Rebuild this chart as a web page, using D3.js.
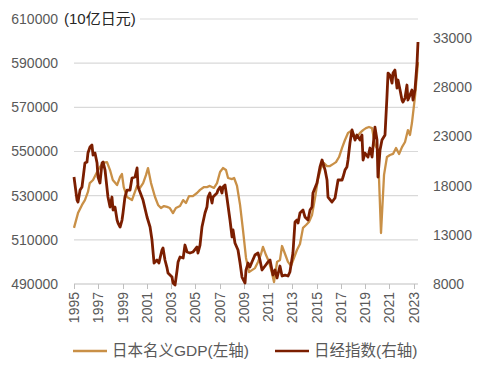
<!DOCTYPE html>
<html><head><meta charset="utf-8">
<script src="https://cdn.jsdelivr.net/npm/d3@7/dist/d3.min.js"></script>
<style>
html,body{margin:0;padding:0;background:#fff;}
svg{display:block;font-family:"Liberation Sans","Noto Sans CJK SC",sans-serif;}
</style></head>
<body><svg id="c" width="484" height="375"></svg>
<script>
const yearTicks = [1995,1997,1999,2001,2003,2005,2007,2009,2011,2013,2015,2017,2019,2021,2023];
const leftTicks = [490000,510000,530000,550000,570000,590000,610000];
const rightTicks = [8000,13000,18000,23000,28000,33000];
const unitLabel = "(10亿日元)";
const seriesNames = ["日本名义GDP(左轴)","日经指数(右轴)"];

const gdpDates = [1995.0,1995.33,1995.66,1995.9,1996.15,1996.3,1996.57,1996.9,1997.14,1997.4,1997.72,1997.97,1998.2,1998.55,1998.8,1998.95,1999.1,1999.37,1999.78,2000.2,2000.44,2000.7,2000.94,2001.1,2001.35,2001.68,2001.93,2002.17,2002.42,2002.67,2002.9,2003.16,2003.4,2003.74,2004.0,2004.23,2004.48,2004.8,2005.14,2005.39,2005.72,2005.96,2006.2,2006.54,2006.79,2007.04,2007.28,2007.53,2007.7,2008.03,2008.2,2008.44,2008.69,2008.93,2009.18,2009.43,2009.67,2009.92,2010.17,2010.42,2010.58,2010.83,2011.08,2011.32,2011.49,2011.74,2011.98,2012.15,2012.4,2012.64,2012.89,2013.14,2013.38,2013.63,2013.88,2014.13,2014.37,2014.62,2014.87,2015.1,2015.36,2015.6,2015.86,2016.1,2016.35,2016.6,2016.85,2017.1,2017.34,2017.59,2017.84,2018.08,2018.33,2018.58,2018.83,2019.07,2019.32,2019.57,2019.81,2020.06,2020.31,2020.56,2020.8,2021.05,2021.3,2021.55,2021.8,2022.04,2022.29,2022.53,2022.7,2022.86,2023.11,2023.36];
const gdpValues = [515400,522100,525800,528000,531700,535700,537100,540700,543000,544800,545200,541600,537100,534800,538500,539800,533900,529400,528000,534400,533500,535700,539400,542500,535700,529400,525800,524400,525300,524900,524400,522100,524400,525300,528000,526700,529800,529800,531200,532600,533900,533900,534400,533500,535700,540700,542500,541600,538000,537500,538000,534400,525800,514500,501800,495400,496300,497200,500000,503600,506800,503100,500000,495000,490900,500000,500900,507200,503600,500000,498200,501800,505400,508100,515400,516700,518100,521200,528900,537100,542500,544800,543400,543400,544300,545200,547500,551600,555200,558400,559300,557500,556600,558400,559700,560600,561100,560600,552900,550700,513100,539400,547500,548400,548900,551600,548900,552000,554300,559700,557500,562900,574700,590500];

const nikkeiDates = [1995.0,1995.25,1995.33,1995.5,1995.66,1995.9,1996.07,1996.15,1996.32,1996.48,1996.57,1996.73,1996.9,1996.98,1997.14,1997.31,1997.4,1997.56,1997.72,1997.8,1997.97,1998.13,1998.22,1998.38,1998.55,1998.63,1998.8,1998.96,1999.04,1999.2,1999.37,1999.62,1999.78,2000.03,2000.2,2000.28,2000.44,2000.69,2001.02,2001.27,2001.43,2001.6,2001.84,2002.0,2002.25,2002.34,2002.5,2002.67,2002.75,2003.08,2003.16,2003.33,2003.5,2003.58,2003.74,2004.0,2004.15,2004.32,2004.56,2004.8,2005.14,2005.22,2005.39,2005.55,2005.8,2005.96,2006.05,2006.2,2006.38,2006.46,2006.79,2006.87,2007.04,2007.2,2007.28,2007.45,2007.6,2007.86,2008.03,2008.11,2008.27,2008.52,2008.69,2008.85,2009.1,2009.18,2009.35,2009.5,2009.67,2009.92,2010.17,2010.33,2010.5,2010.75,2011.0,2011.16,2011.4,2011.57,2011.74,2011.98,2012.15,2012.4,2012.64,2012.8,2013.05,2013.22,2013.38,2013.47,2013.63,2013.88,2014.04,2014.29,2014.46,2014.62,2014.7,2015.03,2015.28,2015.45,2015.7,2015.86,2015.94,2016.27,2016.52,2016.77,2017.1,2017.18,2017.34,2017.5,2017.59,2017.75,2017.92,2018.0,2018.17,2018.33,2018.58,2018.74,2018.83,2018.99,2019.24,2019.4,2019.57,2019.81,2019.98,2020.06,2020.23,2020.39,2020.64,2020.8,2020.89,2021.05,2021.22,2021.3,2021.46,2021.63,2021.71,2021.88,2022.04,2022.12,2022.29,2022.45,2022.53,2022.7,2022.86,2022.95,2023.11,2023.28,2023.36];
const nikkeiValues = [18870,16530,16330,17550,17860,20290,20400,21310,21920,22120,21110,21310,20290,18870,18260,20290,20400,19580,17750,16840,15820,16840,15520,15820,14500,14200,13790,14500,15210,16840,17550,17550,18770,18870,19790,17860,17350,16530,14810,13790,12470,10130,10440,10130,11450,11660,10440,9630,9120,8710,8100,7900,9420,10240,10740,10640,11960,11250,11150,11250,11760,11150,11960,13790,15210,15820,16840,17250,16230,16840,17250,17550,17860,17250,17860,18060,16840,14500,12780,13490,12170,11450,10130,8710,8100,9420,10130,9730,10240,10950,11150,10440,9420,9830,10240,10440,8910,9420,8610,9830,8810,8910,8810,9220,11150,14300,14500,14200,15210,15520,14810,14500,15520,15820,17250,18260,19890,20600,19580,18570,16840,16330,16740,18570,18570,18870,19580,19890,20600,22330,23650,23340,22630,23140,22630,23140,20600,21310,20900,21820,20900,23950,22630,18870,21610,22630,23140,27000,29440,29230,28420,29440,29740,27910,28730,27710,26690,26490,26900,28220,26690,27200,27710,26690,27710,30450,32590];

const gdpColor = "#C99047", nkColor = "#7B1E00", textColor = "#595959";
const svg = d3.select("#c");
const L = 74, R = 418, T = 19, B = 284;

const x = d3.scaleLinear().domain([1995, 2023.36]).range([L, R]);
const yL = d3.scaleLinear().domain([490000, 610000]).range([B, T]);
const yR = d3.scaleLinear().domain([8000, 33000]).range([B, 38]);

// gridlines
svg.append("g").selectAll("line").data(leftTicks).join("line")
  .attr("x1", L).attr("x2", R)
  .attr("y1", d => yL(d)).attr("y2", d => yL(d))
  .attr("stroke", d => d === 490000 ? "#bfbfbf" : "#d9d9d9").attr("stroke-width", 1.2);

// x axis ticks
svg.append("g").selectAll("line").data(yearTicks).join("line")
  .attr("x1", d => Math.round(x(d)) + 0.5).attr("x2", d => Math.round(x(d)) + 0.5)
  .attr("y1", B).attr("y2", B + 5)
  .attr("stroke", "#bfbfbf");

svg.append("g").selectAll("text").data(yearTicks).join("text")
  .attr("transform", d => `translate(${x(d) + 5},${B + 8}) rotate(-90)`)
  .attr("text-anchor", "end").attr("font-size", 14).attr("fill", textColor)
  .text(d => d);

// left labels
svg.append("g").selectAll("text").data(leftTicks).join("text")
  .attr("x", 58).attr("y", d => yL(d)).attr("dy", "0.35em")
  .attr("text-anchor", "end").attr("font-size", 14).attr("fill", textColor)
  .text(d => d);

// right labels
svg.append("g").selectAll("text").data(rightTicks).join("text")
  .attr("x", 433).attr("y", d => yR(d)).attr("dy", "0.35em")
  .attr("text-anchor", "start").attr("font-size", 14).attr("fill", textColor)
  .text(d => d);

// unit label with white background
const ul = svg.append("g");
ul.append("rect").attr("x", 62).attr("y", 9).attr("width", 78).attr("height", 20).attr("fill", "#fff");
ul.append("text").attr("x", 64).attr("y", 19).attr("dy", "0.35em")
  .attr("font-size", 15).attr("fill", "#262626").text(unitLabel);

// lines
const gdpData = gdpDates.map((d, i) => [d, gdpValues[i]]);
const nkData = nikkeiDates.map((d, i) => [d, nikkeiValues[i]]);
svg.append("path").datum(gdpData)
  .attr("fill", "none").attr("stroke", gdpColor).attr("stroke-width", 2.3).attr("stroke-linejoin", "round")
  .attr("d", d3.line().x(d => x(d[0])).y(d => yL(d[1])));
svg.append("path").datum(nkData)
  .attr("fill", "none").attr("stroke", nkColor).attr("stroke-width", 2.8).attr("stroke-linejoin", "round")
  .attr("d", d3.line().x(d => x(d[0])).y(d => yR(d[1])));

// legend
const lg = svg.append("g");
const items = [{name: seriesNames[0], color: gdpColor, x0: 73}, {name: seriesNames[1], color: nkColor, x0: 275}];
items.forEach(it => {
  lg.append("line").attr("x1", it.x0).attr("x2", it.x0 + 34).attr("y1", 351).attr("y2", 351)
    .attr("stroke", it.color).attr("stroke-width", 2.5);
  lg.append("text").attr("x", it.x0 + 39).attr("y", 351).attr("dy", "0.35em")
    .attr("font-size", 15.5).attr("fill", textColor).text(it.name);
});
</script></body></html>
